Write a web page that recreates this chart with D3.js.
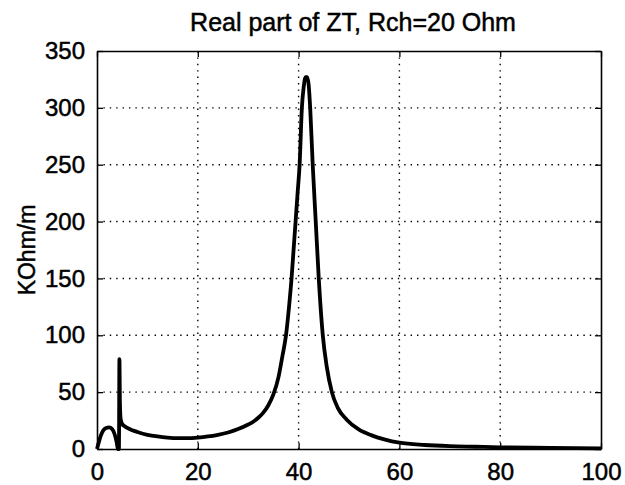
<!DOCTYPE html>
<html>
<head>
<meta charset="utf-8">
<script src="https://cdn.jsdelivr.net/npm/d3@7"></script>
<style>
  html, body { margin: 0; padding: 0; background: #ffffff; }
  svg { display: block; }
  text { font-family: "Liberation Sans", Arial, sans-serif; fill: #000000; }
</style>
</head>
<body>
<div id="graph"></div>
<script>
// Données : abscisse (sans unité) et partie réelle de ZT (KOhm/m)
const freq = [
  0, 0.3, 0.7, 1.2, 1.8, 2.4, 3.0, 3.5, 3.9, 4.15,
  4.35, 4.45, 4.55, 4.7, 5.0, 5.5, 6, 7, 8, 10,
  12, 14, 16, 18, 20, 22, 24, 26, 28, 30,
  31, 32, 33, 34, 35, 36, 36.8, 37.5, 38.1, 38.6,
  39.0, 39.4, 39.8, 40.2, 40.65, 41.0, 41.4, 41.7, 42.0, 42.3,
  42.8, 43.4, 44.0, 44.8, 45.6, 46.6, 47.8, 49.5, 52, 54.5,
  57, 60, 65, 70, 75, 80, 90, 100
];
const reZ = [
  0, 5, 11, 16, 18.5, 19, 17.5, 13, 6, 0,
  0, 79, 40, 26, 22, 20, 18.5, 16.5, 15, 12.5,
  11, 10, 9.5, 9.5, 10, 11, 12.5, 14.5, 17.5, 21.5,
  24, 27.5, 32, 38.5, 48, 63, 82, 100, 125, 150,
  175, 200, 225, 250, 300, 318, 327, 327, 320, 300,
  250, 200, 150, 100, 72, 50, 36, 26, 17, 12,
  8.5, 5.5, 3.5, 2.5, 2, 1.5, 1, 0.5
];

// Graduations
const xTicks = [0, 20, 40, 60, 80, 100];
const yTicks = [0, 50, 100, 150, 200, 250, 300, 350];

const graphCfg = {
  target: '#graph',
  title: 'Real part of ZT, Rch=20 Ohm',
  yLabel: 'KOhm/m',
};

//---------------------------------------------------------------------------------------

// Création du canevas SVG

const width = 625;
const height = 485;
const margin = { top: 51, right: 24, bottom: 36, left: 97 };

const svg = d3
  .select(graphCfg.target)
  .append('svg')
  .attr('width', width)
  .attr('height', height);

svg.append('rect')
  .attr('width', width)
  .attr('height', height)
  .attr('fill', '#ffffff');

const svgPlot = svg
  .append('g')
  .attr('transform', `translate(${margin.left}, ${margin.top})`);

const plotW = width - margin.left - margin.right;
const plotH = height - margin.top - margin.bottom;

//---------------------------------------------------------------------------------------

// Échelles

const x = d3.scaleLinear().domain([0, 100]).range([0, plotW]);
const y = d3.scaleLinear().domain([0, 350]).range([plotH, 0]);

//---------------------------------------------------------------------------------------

// Grille pointillée

svgPlot.append('g')
  .selectAll('line')
  .data(xTicks.slice(1, -1))
  .join('line')
  .attr('x1', d => x(d))
  .attr('x2', d => x(d))
  .attr('y1', 0)
  .attr('y2', plotH)
  .attr('stroke', '#000')
  .attr('stroke-width', 1.4)
  .attr('stroke-dasharray', '1.4,5');

svgPlot.append('g')
  .selectAll('line')
  .data(yTicks.slice(1, -1))
  .join('line')
  .attr('x1', 0)
  .attr('x2', plotW)
  .attr('y1', d => y(d))
  .attr('y2', d => y(d))
  .attr('stroke', '#000')
  .attr('stroke-width', 1.4)
  .attr('stroke-dasharray', '1.4,5');

//---------------------------------------------------------------------------------------

// Axes (graduations vers l'intérieur, sur les quatre côtés)

svgPlot.append('g')
  .attr('transform', `translate(0, ${plotH})`)
  .call(d3.axisBottom(x).tickValues(xTicks).tickSizeInner(-6).tickSizeOuter(0).tickPadding(14));

svgPlot.append('g')
  .call(d3.axisLeft(y).tickValues(yTicks).tickSizeInner(-6).tickSizeOuter(0).tickPadding(12));

svgPlot.append('g')
  .call(d3.axisTop(x).tickValues(xTicks).tickSizeInner(-6).tickSizeOuter(0).tickFormat(''));

svgPlot.append('g')
  .attr('transform', `translate(${plotW}, 0)`)
  .call(d3.axisRight(y).tickValues(yTicks).tickSizeInner(-6).tickSizeOuter(0).tickFormat(''));

svgPlot.selectAll('.domain').attr('stroke', '#000').attr('stroke-width', 1.6);
svgPlot.selectAll('.tick line').attr('stroke', '#000').attr('stroke-width', 1.3);
svgPlot.selectAll('.tick text')
  .style('font-family', '"Liberation Sans", Arial, sans-serif')
  .style('font-size', '24px')
  .attr('fill', '#000')
  .attr('stroke', '#000')
  .attr('stroke-width', 0.5);

//---------------------------------------------------------------------------------------

// Courbe

const line = d3.line()
  .x((d, i) => x(freq[i]))
  .y(d => y(d))
  .curve(d3.curveMonotoneX);

svgPlot.append('path')
  .datum(reZ)
  .attr('d', line)
  .attr('fill', 'none')
  .attr('stroke', '#000')
  .attr('stroke-width', 3.8)
  .attr('stroke-linejoin', 'round');

//---------------------------------------------------------------------------------------

// Titraille

svg.append('text')
  .attr('x', margin.left + plotW / 2 + 4)
  .attr('y', 31)
  .attr('text-anchor', 'middle')
  .attr('stroke', '#000')
  .attr('stroke-width', 0.5)
  .style('font-size', '25px')
  .text(graphCfg.title);

svg.append('text')
  .attr('transform', `translate(35, ${margin.top + plotH / 2}) rotate(-90)`)
  .attr('text-anchor', 'middle')
  .attr('stroke', '#000')
  .attr('stroke-width', 0.5)
  .style('font-size', '23px')
  .text(graphCfg.yLabel);
</script>
</body>
</html>
